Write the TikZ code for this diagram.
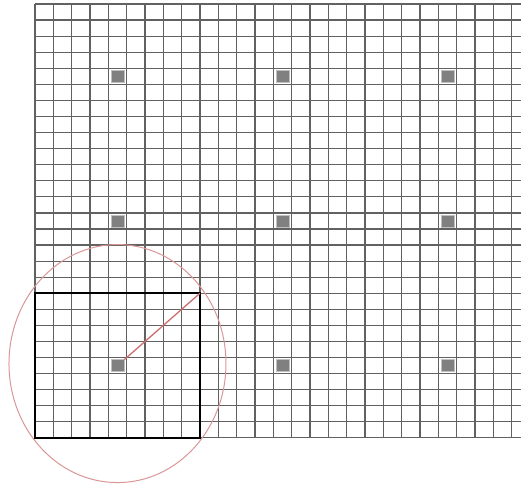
\documentclass[tikz,border=0pt]{standalone}
\usetikzlibrary{positioning}

\definecolor{linered}{RGB}{205,110,110}
\definecolor{ringred}{RGB}{218,150,150}

\begin{document}
\begin{tikzpicture}[x=1pt, y=-1pt,
    gridline/.style={draw=black!62, line width=1.2pt},
    frame/.style={draw=black, line width=2.4pt},
    marker/.style={rectangle, fill=black!50, draw=black!25, line width=0.6pt,
                   minimum width=13pt, minimum height=12pt, inner sep=0pt},
    redline/.style={draw=linered, line width=1.3pt},
    ring/.style={draw=ringred, line width=1pt}]

  \useasboundingbox (0,0) rectangle (521,489);
  \def\cw{18.33}
  \def\ch{16.07}

  % grid
  \foreach \i in {0,...,26}
    \draw[gridline] (35+\i*\cw,4) -- (35+\i*\cw,438);
  \foreach \j in {0,...,27}
    \draw[gridline] (35,4+\j*\ch) -- (521,4+\j*\ch);

  % markers
  \foreach \r in {0,1,2}
    \foreach \c in {0,1,2}
      \node[marker] (m-\r-\c) at (35+4.5*\cw+9*\c*\cw, 4+4.5*\ch+9*\r*\ch) {};

  % highlighted block
  \coordinate (bl) at (35,438);
  \coordinate (tr) at (35+9*\cw,4+18*\ch);
  \draw[frame] (bl) rectangle (tr);

  \draw[redline] (m-2-0) -- (tr);
  \draw[ring] ([yshift=2pt]m-2-0.center) ellipse [x radius=108.5, y radius=119];

\end{tikzpicture}
\end{document}
